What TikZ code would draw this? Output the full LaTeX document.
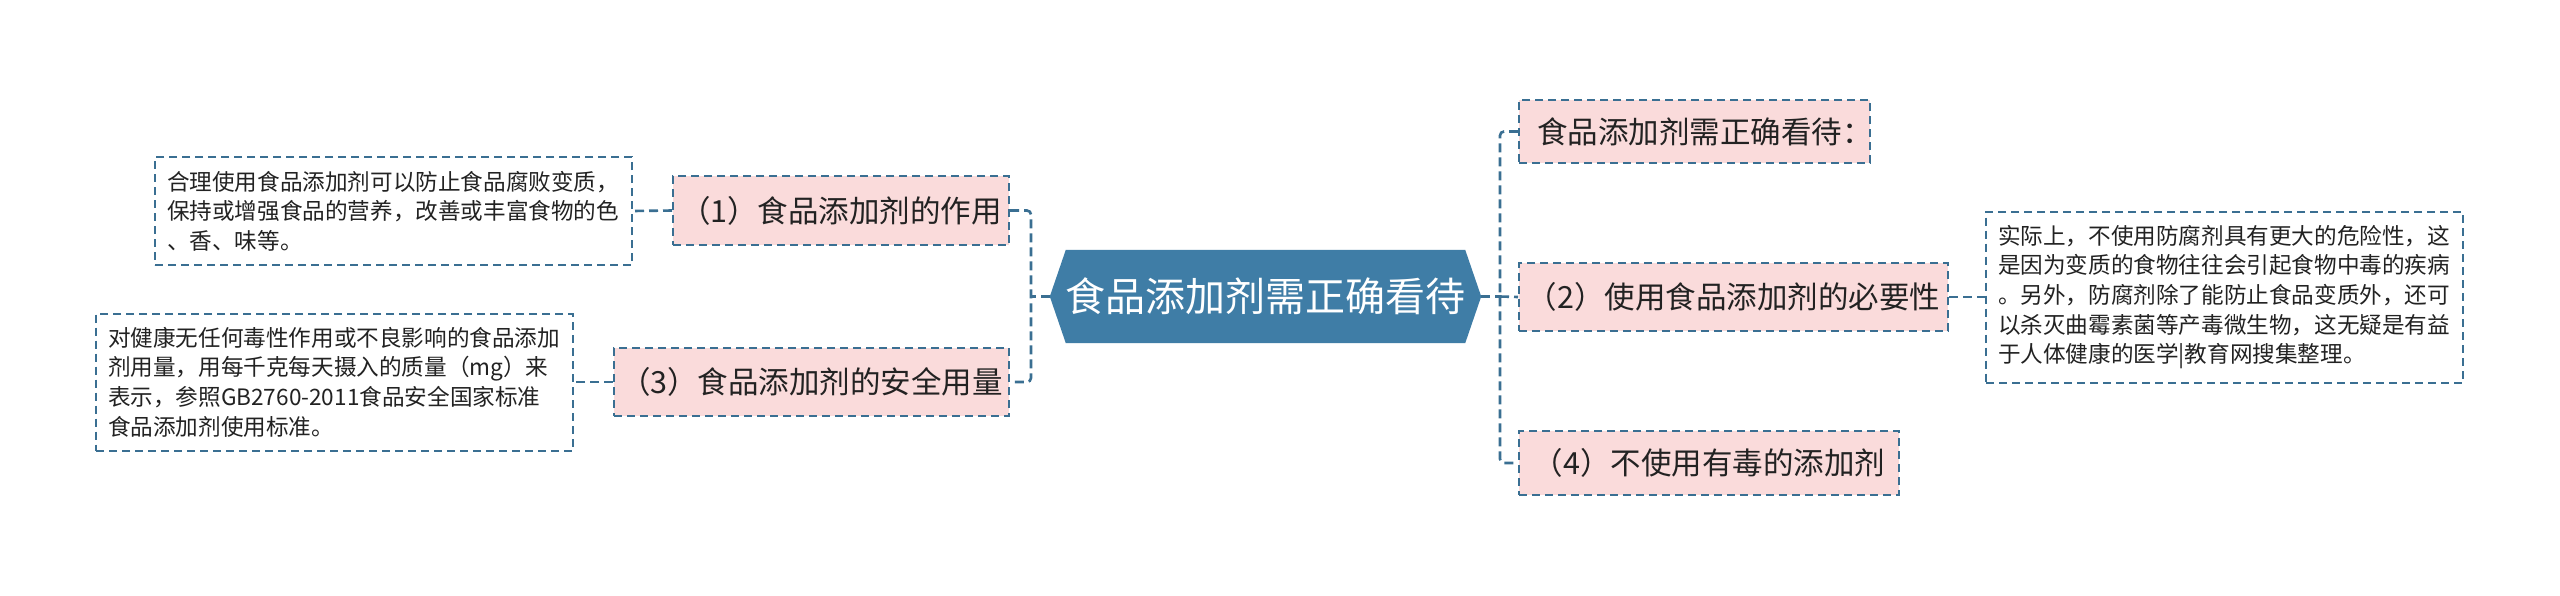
\documentclass[tikz,border=0pt]{standalone}
\usepackage{fontspec}
\setmainfont{Noto Sans CJK SC}
\usetikzlibrary{backgrounds}
\definecolor{linec}{HTML}{3A6F92}
\definecolor{hexc}{HTML}{3F7DA6}
\definecolor{pinkc}{HTML}{FADBDB}
\definecolor{txtc}{HTML}{222222}
\tikzset{
  conn/.style={draw=linec, line width=2.6pt, dash pattern=on 9pt off 5pt},
  topicbox/.style={rectangle, draw=linec, line width=2pt, dash pattern=on 8pt off 5pt,
    fill=pinkc, text=txtc, font=\fontsize{30.5}{36}\selectfont, inner sep=0pt},
  detailbox/.style={rectangle, draw=linec, line width=2pt, dash pattern=on 8pt off 5pt,
    fill=white, text=txtc, font=\fontsize{22.6}{29.6}\selectfont, align=left, inner sep=12pt},
}
\begin{document}
\begin{tikzpicture}[x=1pt,y=1pt]
\useasboundingbox (0,0) rectangle (2560,-595);
% centre
\node[minimum width=431pt, minimum height=93pt, inner sep=0pt, text=white,
  font=\fontsize{40}{48}\selectfont] (c) at (1265.5,-296.5) {食品添加剂需正确看待};
\begin{scope}[on background layer]
\fill[white] (0,0) rectangle (2560,-595);
\fill[hexc] (c.west) -- ([xshift=16pt]c.north west) -- ([xshift=-16pt]c.north east)
  -- (c.east) -- ([xshift=-16pt]c.south east) -- ([xshift=16pt]c.south west) -- cycle;
\end{scope}
% left topics
\node[topicbox, minimum width=336pt, minimum height=69pt] (b1) at (841,-210.5) {（1）食品添加剂的作用};
\node[topicbox, minimum width=395pt, minimum height=68pt] (b3) at (811.5,-382) {（3）食品添加剂的安全用量};
% right topics
\node[topicbox, text width=315pt, align=left, inner xsep=18pt, minimum height=63pt] (t0) at (1694.5,-131.5) {食品添加剂需正确看待：};
\node[topicbox, minimum width=429pt, minimum height=68pt] (b2) at (1733.5,-297) {（2）使用食品添加剂的必要性};
\node[topicbox, minimum width=380pt, minimum height=64pt] (b4) at (1709,-463) {（4）不使用有毒的添加剂};
% details
\node[detailbox, text width=453pt, minimum height=108pt] (d1) at (393.5,-211) {合理使用食品添加剂可以防止食品腐败变质，\\保持或增强食品的营养，改善或丰富食物的色\\、香、味等。};
\node[detailbox, text width=453pt, minimum height=137pt] (d3) at (334.5,-382) {对健康无任何毒性作用或不良影响的食品添加\\剂用量，用每千克每天摄入的质量（mg）来\\表示，参照GB2760-2011食品安全国家标准\\食品添加剂使用标准。};
\node[detailbox, text width=453pt, minimum height=171pt] (d2) at (2224.5,-297) {实际上，不使用防腐剂具有更大的危险性，这\\是因为变质的食物往往会引起食物中毒的疾病\\。另外，防腐剂除了能防止食品变质外，还可\\以杀灭曲霉素菌等产毒微生物，这无疑是有益\\于人体健康的医学|教育网搜集整理。};
% junctions
\coordinate (L) at (1031,-296.5);
\coordinate (R) at (1500,-296.5);
% connectors
\draw[conn] (c.west) -- (L);
\draw[conn, rounded corners=4pt] (b1.east) -| (L) |- (b3.east);
\draw[conn] (c.east) -- (R);
\draw[conn, rounded corners=4pt] (t0.west) -| (R) |- (b4.west);
\draw[conn] (R) -- (b2.west);
\draw[conn] (b1.west) -- (d1.east);
\draw[conn] (b3.west) -- (d3.east);
\draw[conn] (b2.east) -- (d2.west);
\end{tikzpicture}
\end{document}
